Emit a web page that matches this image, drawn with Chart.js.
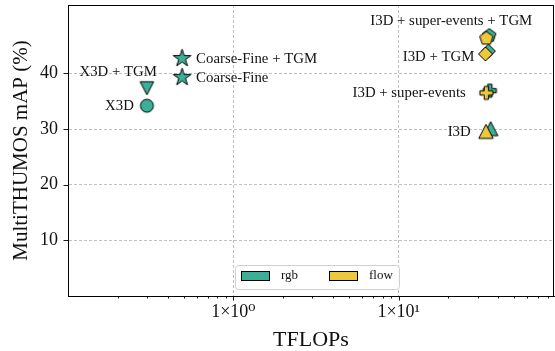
<!DOCTYPE html>
<html><head><meta charset="utf-8">
<script src="https://cdn.jsdelivr.net/npm/chart.js@4.4.1/dist/chart.umd.min.js"></script>
<style>html,body{margin:0;padding:0;background:#fff;}#wrap{width:555px;height:351px;}</style>
</head><body><div id="wrap"><canvas id="c" width="555" height="351"></canvas></div>
<script>
// ---------------- data ----------------
const methods = ['X3D','X3D + TGM','Coarse-Fine','Coarse-Fine + TGM','I3D','I3D + super-events','I3D + TGM','I3D + super-events + TGM'];
const rgbTflops = [0.30, 0.30, 0.49, 0.49, 36.0, 35.6, 34.9, 35.3];
const rgbMAP    = [34.2, 37.5, 39.3, 42.7, 29.9, 36.9, 44.0, 46.8];
const flowTflops = [null, null, null, null, 33.7, 33.9, 33.5, 33.9];
const flowMAP    = [null, null, null, null, 29.4, 36.5, 43.5, 46.3];
const seriesNames = ['rgb', 'flow'];
const yTicks = [10, 20, 30, 40];
const xMajorTicks = [1, 10];
const xMajorLabels = ['1×10⁰', '1×10¹'];
const xMinorTicks = [0.2,0.3,0.4,0.5,0.6,0.7,0.8,0.9,2,3,4,5,6,7,8,9,20,30,40,50,60,70,80];
const xRange = [0.1, 87];
const yRange = [0, 52.3];

// ---------------- styles ----------------
const TEAL = '#3caf97', GOLD = '#ecc83c';
const SERIF = '"Liberation Serif", "DejaVu Serif", serif';
const markerShapes = ['circle','triangleDown','star','star','triangle','plus','diamond','pentagon'];
const markerSize = {circle:6.5, triangleDown:7.5, star:9.3, triangle:8, plus:6.5, diamond:7, pentagon:7};
const labelStyle = [
  {align:'right', dx:-13, dy:0},
  {align:'right', dx:10, dy:-15},
  {align:'left', dx:14, dy:1},
  {align:'left', dx:14, dy:1},
  {align:'right', dx:-20, dy:2},
  {align:'right', dx:-24, dy:2},
  {align:'right', dx:-14, dy:6},
  {align:'right', dx:43, dy:-14}
];

function makeMarker(shape, fill, R) {
  const pad = 2;
  const size = Math.ceil(2 * R + 2 * pad);
  const c = document.createElement('canvas');
  c.width = size; c.height = size;
  const g = c.getContext('2d');
  const cx = size / 2, cy = size / 2;
  g.beginPath();
  if (shape === 'circle') {
    g.arc(cx, cy, R, 0, Math.PI * 2);
  } else if (shape === 'star') {
    for (let i = 0; i < 10; i++) {
      const r = i % 2 ? R * 0.381966 : R;
      const a = -Math.PI / 2 + i * Math.PI / 5;
      g.lineTo(cx + r * Math.cos(a), cy + r * Math.sin(a));
    }
  } else if (shape === 'pentagon') {
    for (let i = 0; i < 5; i++) {
      const a = -Math.PI / 2 + i * 2 * Math.PI / 5;
      g.lineTo(cx + R * Math.cos(a), cy + R * Math.sin(a));
    }
  } else if (shape === 'plus') {
    const a = R / 3;
    const pts = [[-a,-R],[a,-R],[a,-a],[R,-a],[R,a],[a,a],[a,R],[-a,R],[-a,a],[-R,a],[-R,-a],[-a,-a]];
    pts.forEach(p => g.lineTo(cx + p[0], cy + p[1]));
  } else if (shape === 'diamond') {
    g.moveTo(cx, cy - R); g.lineTo(cx + R, cy); g.lineTo(cx, cy + R); g.lineTo(cx - R, cy);
  } else if (shape === 'triangle') {
    g.moveTo(cx, cy - R); g.lineTo(cx + R * 0.9, cy + R * 0.75); g.lineTo(cx - R * 0.9, cy + R * 0.75);
  } else if (shape === 'triangleDown') {
    g.moveTo(cx, cy + R); g.lineTo(cx + R * 0.9, cy - R * 0.75); g.lineTo(cx - R * 0.9, cy - R * 0.75);
  }
  g.closePath();
  g.fillStyle = fill; g.fill();
  g.lineWidth = 1; g.strokeStyle = '#000'; g.lineJoin = 'miter'; g.stroke();
  return c;
}

const rgbPoints = [], rgbStyles = [];
const flowPoints = [], flowStyles = [];
methods.forEach((m, i) => {
  rgbPoints.push({x: rgbTflops[i], y: rgbMAP[i]});
  rgbStyles.push(makeMarker(markerShapes[i], TEAL, markerSize[markerShapes[i]]));
  if (flowTflops[i] != null) {
    flowPoints.push({x: flowTflops[i], y: flowMAP[i]});
    flowStyles.push(makeMarker(markerShapes[i], GOLD, markerSize[markerShapes[i]]));
  }
});

const decorPlugin = {
  id: 'decor',
  afterDraw(chart) {
    const ctx = chart.ctx, ca = chart.chartArea;
    const xs = chart.scales.x, ys = chart.scales.y;
    ctx.save();
    ctx.strokeStyle = '#000'; ctx.lineWidth = 1; ctx.setLineDash([]);
    ctx.beginPath();
    ctx.moveTo(ca.left, ca.top + 0.5); ctx.lineTo(ca.right, ca.top + 0.5);
    ctx.moveTo(ca.right - 0.5, ca.top); ctx.lineTo(ca.right - 0.5, ca.bottom);
    ctx.stroke();
    ctx.lineWidth = 0.9;
    ctx.beginPath();
    yTicks.forEach(v => { const y = Math.round(ys.getPixelForValue(v)) + 0.5; ctx.moveTo(ca.left - 4.5, y); ctx.lineTo(ca.left, y); });
    xMajorTicks.forEach(v => { const x = Math.round(xs.getPixelForValue(v)) + 0.5; ctx.moveTo(x, ca.bottom); ctx.lineTo(x, ca.bottom + 4.5); });
    xMinorTicks.forEach(v => { const x = Math.round(xs.getPixelForValue(v)) + 0.5; if (x < ca.right) { ctx.moveTo(x, ca.bottom); ctx.lineTo(x, ca.bottom + 2.5); } });
    ctx.stroke();
    ctx.fillStyle = '#111';
    ctx.font = '14.8px ' + SERIF;
    ctx.textBaseline = 'middle';
    methods.forEach((m, i) => {
      const st = labelStyle[i];
      const px = xs.getPixelForValue(rgbTflops[i]), py = ys.getPixelForValue(rgbMAP[i]);
      ctx.textAlign = st.align;
      ctx.fillText(m, px + st.dx, py + st.dy);
    });
    const lw = 164, lh = 24;
    const lx = (ca.left + ca.right) / 2 + 6 - lw / 2, ly = ca.bottom - 31;
    ctx.beginPath();
    ctx.roundRect(lx + 0.5, ly + 0.5, lw, lh, 3);
    ctx.fillStyle = 'rgba(255,255,255,0.85)'; ctx.fill();
    ctx.strokeStyle = '#d0d0d0'; ctx.lineWidth = 1; ctx.stroke();
    const cols = [TEAL, GOLD];
    seriesNames.forEach((name, k) => {
      const bx = lx + 6 + k * 88;
      ctx.fillStyle = cols[k];
      ctx.fillRect(bx + 0.5, ly + 6.5, 28, 9);
      ctx.strokeStyle = '#000'; ctx.lineWidth = 1;
      ctx.strokeRect(bx + 0.5, ly + 6.5, 28, 9);
      ctx.fillStyle = '#111';
      ctx.font = '13px ' + SERIF;
      ctx.textAlign = 'left'; ctx.textBaseline = 'middle';
      ctx.fillText(name, bx + 40, ly + 11);
    });
    ctx.restore();
  }
};

new Chart(document.getElementById('c'), {
  type: 'scatter',
  data: {
    datasets: [
      {label: seriesNames[1], data: flowPoints, pointStyle: flowStyles, pointRadius: 7, order: 0},
      {label: seriesNames[0], data: rgbPoints, pointStyle: rgbStyles, pointRadius: 7, order: 1}
    ]
  },
  options: {
    responsive: false,
    animation: false,
    devicePixelRatio: 1,
    events: [],
    layout: {autoPadding: false, padding: {top: 5, right: 1, left: 0, bottom: 0}},
    plugins: {legend: {display: false}, tooltip: {enabled: false}},
    scales: {
      x: {
        type: 'logarithmic',
        min: xRange[0], max: xRange[1],
        afterBuildTicks: s => { s.ticks = xMinorTicks.concat(xMajorTicks).sort((a,b)=>a-b).map(v => ({value: v})); },
        afterFit: s => { s.height = 55; s.paddingLeft = 0; s.paddingRight = 0; },
        ticks: {
          autoSkip: false, maxRotation: 0, minRotation: 0, padding: 5,
          color: '#111', font: {family: SERIF, size: 18},
          callback: v => { const k = xMajorTicks.indexOf(v); return k >= 0 ? xMajorLabels[k] : ''; }
        },
        grid: {
          drawTicks: false,
          color: c => (c.tick && xMajorTicks.includes(c.tick.value)) ? '#b0b0b0' : 'rgba(0,0,0,0)',
          lineWidth: 0.8
        },
        border: {display: true, color: '#000', width: 1, dash: [3, 2]},
        title: {display: true, text: 'TFLOPs', color: '#111', font: {family: SERIF, size: 22, lineHeight: 1}, padding: {top: 0, bottom: 0}}
      },
      y: {
        min: yRange[0], max: yRange[1],
        afterBuildTicks: s => { s.ticks = yTicks.map(v => ({value: v})); },
        afterFit: s => { s.width = 68; s.paddingTop = 0; s.paddingBottom = 0; },
        ticks: {padding: 10, color: '#111', font: {family: SERIF, size: 18}},
        grid: {drawTicks: false, color: '#b0b0b0', lineWidth: 0.8},
        border: {display: true, color: '#000', width: 1, dash: [3, 2]},
        title: {display: true, text: 'MultiTHUMOS mAP (%)', color: '#111', font: {family: SERIF, size: 21, lineHeight: 1}, padding: {top: 11, bottom: 0}}
      }
    }
  },
  plugins: [decorPlugin]
});
</script></body></html>
